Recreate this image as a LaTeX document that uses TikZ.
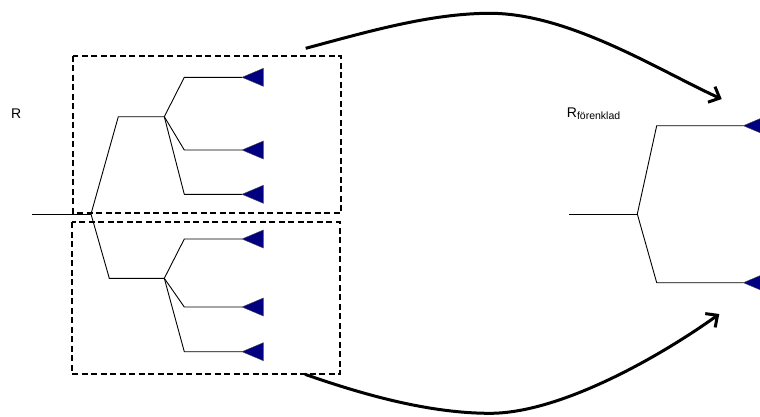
\documentclass[tikz,border=0pt]{standalone}
\usepackage{fontspec}
\setmainfont{Liberation Sans}
\usetikzlibrary{arrows.meta}
\definecolor{tipblue}{RGB}{0,0,128}
\begin{document}
\begin{tikzpicture}[x=1pt,y=-1pt,
  branch/.style={draw=black,line width=0.9pt},
  tipmark/.style={fill=tipblue,draw=black!70,line width=0.4pt},
  groupbox/.style={draw=black,line width=1.8pt,dash pattern=on 6pt off 3.5pt},
  bigarrow/.style={draw=black,line width=3pt,-{Straight Barb[length=9pt,width=17pt,line width=3pt]}},
  lbl/.style={inner sep=0pt,anchor=base west,font=\fontsize{14}{16}\selectfont}]
\clip (0,0) rectangle (760,416);
\useasboundingbox (0,0) rectangle (760,416);
% ---------- left tree coordinates ----------
\coordinate (in)   at (32,214);
\coordinate (root) at (91,214);
\coordinate (ua)   at (118.3,116.7);
\coordinate (uj)   at (164.3,116.7);
\coordinate (la)   at (109.3,278.3);
\coordinate (lj)   at (164.3,278.3);
\foreach \n/\y in {u1/77.3,u2/150,u3/194.3,l1/239,l2/307,l3/351.7}{
  \coordinate (\n a) at (184.3,\y);
  \coordinate (\n t) at (242,\y);
}
% ---------- left tree ----------
\draw[branch] (in) -- (root);
\draw[branch] (root) -- (ua) -- (uj);
\draw[branch] (root) -- (la) -- (lj);
\foreach \n in {u1,u2,u3}{\draw[branch] (uj) -- (\n a) -- (\n t);}
\foreach \n in {l1,l2,l3}{\draw[branch] (lj) -- (\n a) -- (\n t);}
\foreach \n in {u1,u2,u3,l1,l2,l3}{\filldraw[tipmark] (\n t) -- ++(21.3,-9) -- ++(0,18) -- cycle;}
% ---------- dashed group boxes ----------
\draw[groupbox] (73.3,55.7) rectangle (341,213.3);
\draw[groupbox] (71.7,222.3) rectangle (340,374);
% ---------- right tree ----------
\coordinate (rin)   at (569,214);
\coordinate (rroot) at (637.3,214);
\coordinate (r1a)   at (656.7,125.7);
\coordinate (r1t)   at (743.3,125.7);
\coordinate (r2a)   at (656.7,282.7);
\coordinate (r2t)   at (743.3,282.7);
\draw[branch] (rin) -- (rroot);
\draw[branch] (rroot) -- (r1a) -- (r1t);
\draw[branch] (rroot) -- (r2a) -- (r2t);
\filldraw[tipmark] (r1t) -- ++(21.3,-9) -- ++(0,18) -- cycle;
\filldraw[tipmark] (r2t) -- ++(21.3,-9) -- ++(0,18) -- cycle;
% ---------- labels ----------
\node[lbl] (lR) at (11,118.3) {R};
\node[lbl] (rR) at (566.7,117.3) {R\raisebox{-2.2pt}{\fontsize{10.5}{12}\selectfont förenklad}};
% ---------- arrows ----------
\coordinate (a1s) at (305.7,48.3);
\coordinate (a1m) at (490,13.3);
\coordinate (a1e) at (721.7,99);
\coordinate (a2s) at (305,374.3);
\coordinate (a2m) at (490,413.3);
\coordinate (a2e) at (719.3,314);
\draw[bigarrow] (a1s) .. controls (365.7,32.3) and (430,13.3) .. (a1m)
  .. controls (570,13.3) and (661.7,72) .. (a1e);
\draw[bigarrow] (a2s) .. controls (365,395.3) and (430,413.3) .. (a2m)
  .. controls (560,413.3) and (659.3,357) .. (a2e);
\end{tikzpicture}
\end{document}
